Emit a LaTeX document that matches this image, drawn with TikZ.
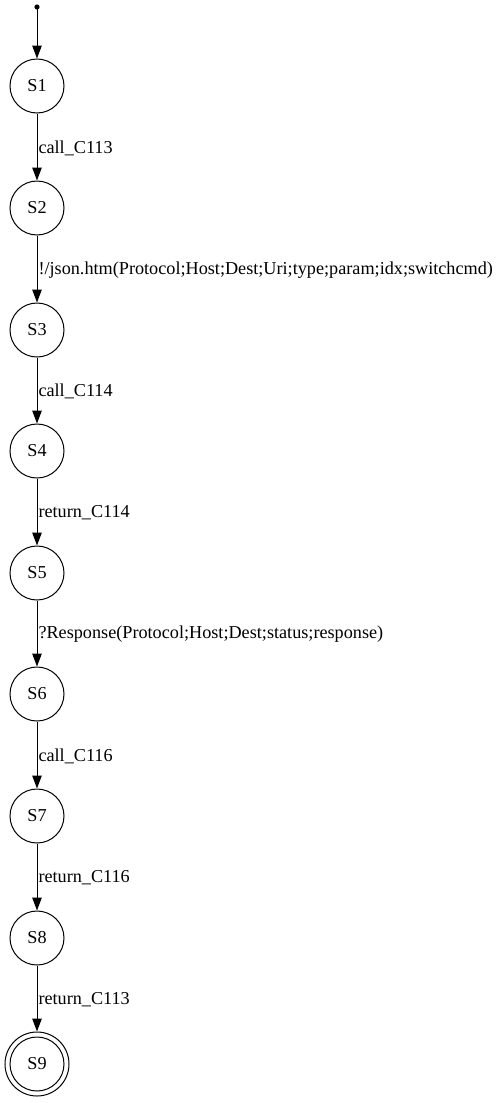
\documentclass[tikz,border=0pt]{standalone}
\usepackage{fontspec}
\setmainfont{Liberation Serif}
\usetikzlibrary{arrows.meta}
\begin{document}
\begin{tikzpicture}[x=1pt,y=-1pt,
  state/.style={draw,circle,line width=1pt,minimum size=54pt,inner sep=0pt,font=\fontsize{18.2}{20}\selectfont},
  final/.style={state,minimum size=64pt},
  edge/.style={draw,line width=1pt,-{Triangle[length=13pt,width=9.5pt]}},
  lbl/.style={anchor=west,inner sep=1pt,yshift=-1pt,font=\fontsize{18.2}{20}\selectfont}]
\useasboundingbox (0,0) rectangle (496,1103);
\fill (37,7) circle (2.6);
\coordinate (st) at (37,7);
\node[state] (S1) at (37,86) {S1};
\node[state] (S2) at (37,208) {S2};
\node[state] (S3) at (37,330) {S3};
\node[state] (S4) at (37,451) {S4};
\node[state] (S5) at (37,573) {S5};
\node[state] (S6) at (37,694) {S6};
\node[state] (S7) at (37,816) {S7};
\node[state] (S8) at (37,938) {S8};
\node[final] (S9) at (37,1064) {S9};
\draw[line width=1pt] (S9.center) circle (27);
\draw[edge] (st) -- (S1);
\draw[edge] (S1) -- node[lbl] {call\_C113} (S2);
\draw[edge] (S2) -- node[lbl] {!/json.htm(Protocol;Host;Dest;Uri;type;param;idx;switchcmd)} (S3);
\draw[edge] (S3) -- node[lbl] {call\_C114} (S4);
\draw[edge] (S4) -- node[lbl] {return\_C114} (S5);
\draw[edge] (S5) -- node[lbl] {?Response(Protocol;Host;Dest;status;response)} (S6);
\draw[edge] (S6) -- node[lbl] {call\_C116} (S7);
\draw[edge] (S7) -- node[lbl] {return\_C116} (S8);
\draw[edge] (S8) -- node[lbl] {return\_C113} (S9);
\end{tikzpicture}
\end{document}
